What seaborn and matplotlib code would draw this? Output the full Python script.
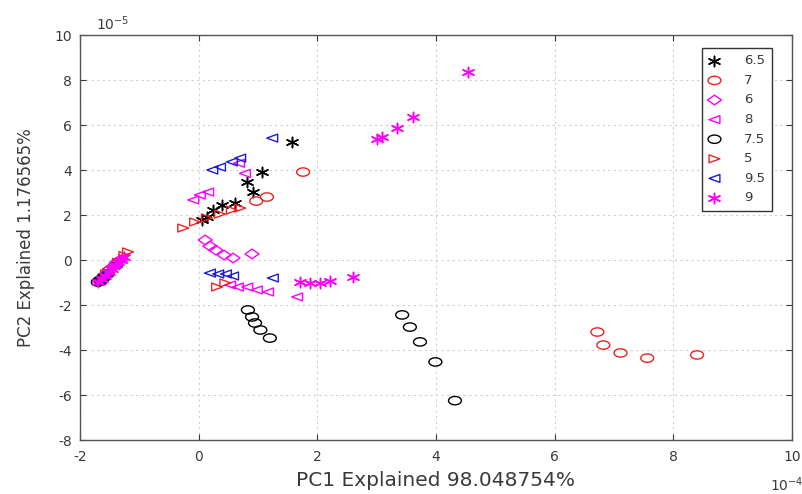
import seaborn as sns
import matplotlib.pyplot as plt
import pandas as pd
from matplotlib.markers import MarkerStyle
from matplotlib.transforms import Affine2D

# class labels in legend order
groups = ["6.5", "7", "6", "8", "7.5", "5", "9.5", "9"]

# PC scores (x in 1e-4, y in 1e-5)
pc1_6_5 = [1.58, 1.07, 0.82, 0.92, 0.61, 0.39, 0.24, 0.14, 0.06, -1.66, -1.60, -1.52]
pc2_6_5 = [5.24, 3.91, 3.47, 3.02, 2.53, 2.44, 2.22, 1.91, 1.78, -0.90, -0.72, -0.50]

pc1_7 = [1.76, 0.97, 1.15, 6.72, 6.82, 7.11, 7.56, 8.40, -1.62, -1.50, -1.40]
pc2_7 = [3.91, 2.62, 2.80, -3.20, -3.78, -4.13, -4.36, -4.22, -0.82, -0.45, -0.20]

pc1_6 = [0.11, 0.19, 0.29, 0.43, 0.58, 0.90, -1.68, -1.58, -1.45, -1.35]
pc2_6 = [0.89, 0.62, 0.44, 0.22, 0.09, 0.27, -0.95, -0.65, -0.30, -0.05]

pc1_8 = [-0.09, 0.02, 0.16, 0.68, 0.78, 0.53, 0.66, 0.82, 0.98, 1.17, 1.66, -1.64, -1.55, -1.42, -1.30]
pc2_8 = [2.67, 2.89, 3.02, 4.30, 3.85, -1.11, -1.20, -1.20, -1.33, -1.42, -1.64, -0.85, -0.60, -0.25, 0.05]

pc1_7_5 = [0.83, 0.90, 0.95, 1.04, 1.20, 3.43, 3.56, 3.73, 3.99, 4.32, -1.70, -1.65, -1.60]
pc2_7_5 = [-2.22, -2.53, -2.80, -3.11, -3.47, -2.44, -2.98, -3.64, -4.53, -6.25, -0.98, -0.88, -0.78]

pc1_5 = [-0.26, -0.06, 0.14, 0.36, 0.56, 0.70, 0.31, 0.45, -1.56, -1.36, -1.25, -1.19]
pc2_5 = [1.42, 1.69, 1.87, 2.04, 2.22, 2.31, -1.20, -1.02, -0.62, -0.10, 0.20, 0.36]

pc1_9_5 = [1.24, 0.23, 0.36, 0.56, 0.70, 0.19, 0.33, 0.46, 0.58, 1.25, -1.66, -1.53, -1.38]
pc2_9_5 = [5.42, 4.00, 4.13, 4.36, 4.53, -0.58, -0.62, -0.62, -0.71, -0.80, -0.92, -0.55, -0.15]

pc1_9 = [4.54, 3.62, 3.35, 3.09, 3.01, 1.71, 1.88, 2.05, 2.22, 2.60,
         -1.69, -1.63, -1.57, -1.51, -1.46, -1.41, -1.36, -1.31, -1.26]
pc2_9 = [8.36, 6.36, 5.87, 5.47, 5.38, -0.98, -1.02, -1.02, -0.93, -0.76,
         -0.96, -0.84, -0.70, -0.52, -0.38, -0.24, -0.10, 0.02, 0.14]

pc1 = [pc1_6_5, pc1_7, pc1_6, pc1_8, pc1_7_5, pc1_5, pc1_9_5, pc1_9]
pc2 = [pc2_6_5, pc2_7, pc2_6, pc2_8, pc2_7_5, pc2_5, pc2_9_5, pc2_9]

colors = ["black", "#ee2222", "#ff00ff", "#ff00ff", "black", "#ee2222", "#1a1ad8", "#ff00ff"]
marker_names = ["*", "o", "D", "<", "o", ">", "<", "*"]


# the original picture is stretched sideways, so the markers are too
def make_marker(name):
	if name == "*":
		return MarkerStyle((6, 2, 0), transform=Affine2D().scale(1.2, 1.0))
	if name == "D":
		return MarkerStyle("D", transform=Affine2D().scale(1.3, 0.9))
	if name in ["<", ">"]:
		return MarkerStyle(name, transform=Affine2D().scale(1.3, 0.95))
	return MarkerStyle(name, transform=Affine2D().scale(1.55, 1.0))


sns.set_style("ticks")
plt.rcParams["font.family"] = ["DejaVu Sans"]
plt.rcParams["mathtext.fontset"] = "dejavusans"
plt.rcParams["axes.unicode_minus"] = False
text_col = "#3a3a3a"

fig = plt.figure(figsize=(8.03, 4.94), dpi=100)
ax = fig.add_axes([0.0996, 0.1093, 0.8867, 0.8198])

for i in range(len(groups)):
	df = pd.DataFrame({"pc1": pc1[i], "pc2": pc2[i]})
	m = make_marker(marker_names[i])
	if marker_names[i] == "*":
		sns.scatterplot(data=df, x="pc1", y="pc2", ax=ax, marker=m, s=55,
		                color=colors[i], linewidth=1.1, label=groups[i], legend=False)
	else:
		size = 30 if marker_names[i] == "D" else 36
		sns.scatterplot(data=df, x="pc1", y="pc2", ax=ax, marker=m, s=size,
		                color=colors[i], facecolors="none", edgecolor=colors[i],
		                linewidth=1.0, label=groups[i], legend=False)

ax.set_xlim(-2, 10)
ax.set_ylim(-8, 10)
ax.set_xticks(range(-2, 11, 2))
ax.set_yticks(range(-8, 11, 2))
ax.grid(True, linestyle=(0, (2, 3)), color="#cfcfcf", linewidth=0.8)
ax.tick_params(direction="in", top=True, right=True, length=4, colors=text_col, labelsize=10)
ax.tick_params(axis="x", pad=7)
ax.tick_params(axis="y", pad=6)
for sp in ax.spines.values():
	sp.set_color("#555555")
	sp.set_linewidth(1.0)

ax.set_xlabel("PC1 Explained 98.048754%", fontsize=14.5, color=text_col, labelpad=5)
ax.set_ylabel("PC2 Explained 1.176565%", fontsize=12, color=text_col, labelpad=14)
ax.text(0.022, 1.005, "$10^{-5}$", transform=ax.transAxes, ha="left", va="bottom",
        fontsize=10, color=text_col)
ax.text(0.993, -0.11, "$10^{-4}$", transform=ax.transAxes, ha="center", va="center",
        fontsize=10, color=text_col)

leg = ax.legend(loc="upper right", bbox_to_anchor=(0.981, 0.985), fontsize=9.5,
                frameon=True, fancybox=False, edgecolor="#333333", framealpha=1,
                handlelength=0.9, handletextpad=1.8, labelspacing=0.5, borderpad=0.5)
leg.get_frame().set_linewidth(1.0)
for t in leg.get_texts():
	t.set_color(text_col)

fig.savefig("out.png", dpi=100)
